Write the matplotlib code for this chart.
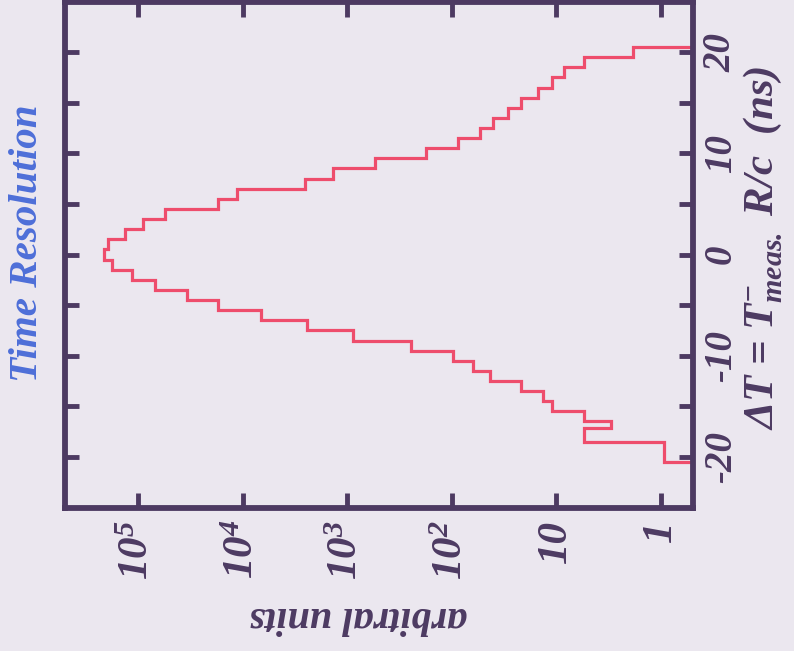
import matplotlib
matplotlib.use("Agg")
import matplotlib.pyplot as plt
import numpy as np

plt.rcParams["font.family"] = ["Liberation Serif", "DejaVu Serif"]
plt.rcParams["font.weight"] = "bold"
plt.rcParams["font.style"] = "italic"
plt.rcParams["axes.labelweight"] = "bold"
plt.rcParams["mathtext.fontset"] = "custom"
plt.rcParams["mathtext.rm"] = "Liberation Serif:bold:italic"
plt.rcParams["mathtext.it"] = "Liberation Serif:bold:italic"
plt.rcParams["mathtext.bf"] = "Liberation Serif:bold:italic"
plt.rcParams["mathtext.default"] = "regular"

# time difference histogram, 1 ns bins (one bin near -17 ns split)
bin_edges = [-20.5, -19.5, -18.5, -17.15] + list(np.arange(-16.5, 21.0, 1.0))
counts = [0.93, 0.93, 5.5, 3.0, 5.5, 11, 13.5, 22, 43, 62, 98, 245, 870, 2400,
          6600, 17000, 34000, 69000, 114000, 177000, 210000, 194000, 133000,
          90000, 55000, 17000, 11200, 2520, 1380, 540, 178, 87, 54, 40, 29, 22,
          15, 11, 8.5, 5.5, 1.85]

count_ticks = [1e5, 1e4, 1e3, 1e2, 10, 1]
count_labels = ["10$^{5}$", "10$^{4}$", "10$^{3}$", "10$^{2}$", "10", "1"]
dt_ticks = [-20, -10, 0, 10, 20]
dt_minor = [-15, -5, 5, 15]

bg = "#ebe7ef"
ink = "#4d3a62"
red = "#ee4d6c"

fig = plt.figure(figsize=(7.94, 6.51), dpi=100, facecolor=bg)
ax = fig.add_axes([65 / 794, (651 - 507.5) / 651, 628 / 794, 506 / 651])
ax.set_facecolor(bg)

ax.stairs(counts, bin_edges, orientation="horizontal", baseline=0.01,
          color=red, linewidth=2.3)

ax.set_xscale("log")
ax.set_xlim(4.98e5, 0.494)
ax.set_ylim(-25, 25)

ax.set_xticks(count_ticks)
ax.set_xticklabels(count_labels, rotation=90, fontsize=31, color=ink,
                   ha="center", va="top")
ax.xaxis.set_minor_locator(matplotlib.ticker.NullLocator())
ax.tick_params(axis="x", which="major", direction="in", top=True, bottom=True,
               labeltop=False, length=11, width=3.5, color=ink, pad=9)

ax.set_yticks(dt_ticks)
ax.set_yticks(dt_minor, minor=True)
ax.set_yticklabels([str(t) for t in dt_ticks], rotation=90, fontsize=28,
                   color=ink, va="center")
ax.tick_params(axis="y", which="both", direction="in", left=True, right=True,
               labelleft=False, labelright=True, length=10, width=3.5,
               color=ink, pad=7)

for sp in ax.spines.values():
    sp.set_color(ink)
    sp.set_linewidth(4.2)

ax.set_xlabel("arbitral units", fontsize=29, fontweight="bold", color=ink,
              rotation=180, va="center", ha="center")
ax.xaxis.set_label_coords(0.467, -0.216)

ax.yaxis.set_label_position("right")
ax.set_ylabel(r"$\Delta T$ = $T_{meas.}^{-}$ R/c  (ns)", fontsize=31,
              fontweight="bold", color=ink, rotation=90, va="center",
              ha="center")
ax.yaxis.set_label_coords(1.11, 0.513)

fig.text(28 / 794, 1 - 243 / 651, "Time Resolution", rotation=90,
         fontsize=29.5, fontweight="bold", color="#4e6fd8", ha="center",
         va="center")

fig.savefig("out.png", dpi=100, facecolor=bg)
